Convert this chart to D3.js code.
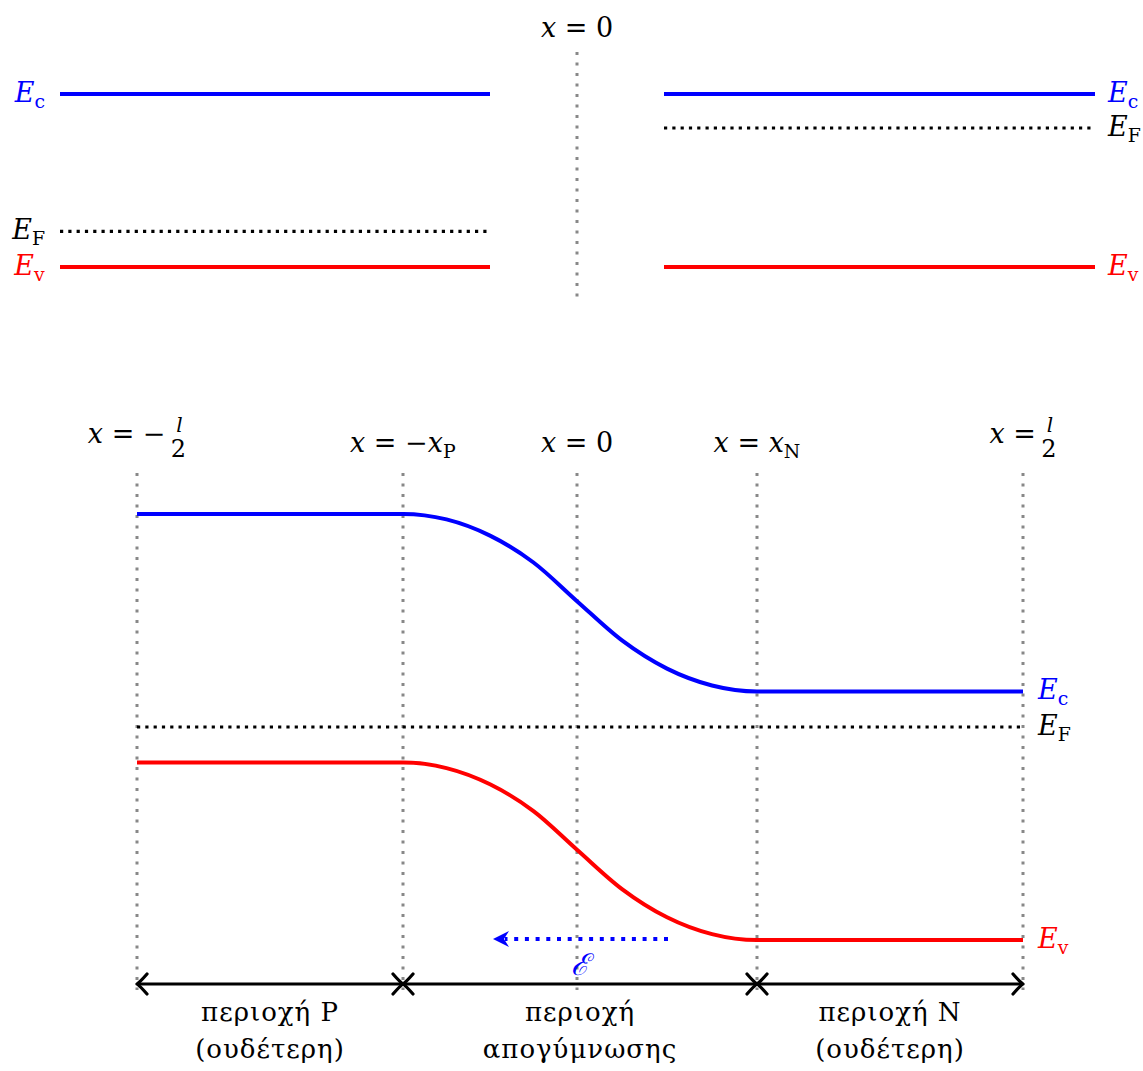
<!DOCTYPE html>
<html>
<head>
<meta charset="utf-8">
<script src="https://cdn.jsdelivr.net/npm/d3@7"></script>
<style>
  body { margin: 0; background: #fff; }
  text { font-family: "DejaVu Serif", "Liberation Serif", serif; }
</style>
</head>
<body>
<div id="chart"></div>
<script>
/* values: x in position units (x = 0 at the junction), energies in eV */

// top panel: the two pieces before contact (Ev = 0)
const topSpanStart = [-51.7, 8.7];
const topSpanEnd = [-8.7, 51.8];
const topEc = [1.12, 1.12];
const topEv = [0, 0];
const topEF = [0.23, 0.90];

// bottom panel: the junction (EF = 0)
const boundaryX = [-44, -17.4, 0, 18, 44.6];
const bandX = [-44, -17.4, -13.05, -8.7, -4.35, 0, 4.5, 9, 13.5, 18, 44.6];
const ecValues = [0.96, 0.96, 0.935, 0.862, 0.741, 0.567, 0.39, 0.263, 0.187, 0.16, 0.16];
const evValues = [-0.16, -0.16, -0.185, -0.258, -0.379, -0.553, -0.73, -0.857, -0.933, -0.96, -0.96];
const efValue = 0;
const fieldFrom = 9.1, fieldTo = -8.4, fieldLevel = -0.955;

// labels
const boundaryLabels = [
  [{t: "x", it: 1}, {t: " = −"}, {frac: ["l", "2"]}],
  [{t: "x", it: 1}, {t: " = −"}, {t: "x", it: 1}, {t: "P", sub: 1}],
  [{t: "x", it: 1}, {t: " = 0"}],
  [{t: "x", it: 1}, {t: " = "}, {t: "x", it: 1}, {t: "N", sub: 1}],
  [{t: "x", it: 1}, {t: " = "}, {frac: ["l", "2"]}]
];
const regionNames = [
  ["περιοχή P", "(ουδέτερη)"],
  ["περιοχή", "απογύμνωσης"],
  ["περιοχή N", "(ουδέτερη)"]
];
const BLUE = "#0000ff", RED = "#ff0000", GRAY = "#888888";
const MATH = 27;

let svg = d3.select("#chart")
    .append("svg")
    .attr("width", 1143)
    .attr("height", 1071);

let x = d3.scaleLinear()
    .domain([-44, 44.6])
    .range([137, 1023]);

let yTop = d3.scaleLinear()
    .domain([0, 1.12])
    .range([267, 94]);

let yBot = d3.scaleLinear()
    .domain([0, 1])
    .range([727, 505]);

// builds "E_c" style labels out of tspans, plus optional fraction
function addMath(parent, parts, size, color) {
    let g = parent.append("g");
    let text = g.append("text").attr("font-size", size).attr("fill", color || "#000");
    parts.forEach(function(p) {
        if (p.frac) return;
        let ts = text.append("tspan").text(p.t);
        if (p.it) ts.attr("font-style", "italic");
        if (p.sub) ts.attr("font-size", size * 0.7).attr("dy", 6);
    });
    let fr = parts.find(function(p) { return p.frac; });
    if (fr) {
        let fx = text.node().getComputedTextLength() + 13;
        g.append("text").attr("x", fx + 1).attr("y", -11).attr("text-anchor", "middle")
            .attr("font-size", 20).attr("font-style", "italic").text(fr.frac[0]);
        g.append("text").attr("x", fx).attr("y", 14).attr("text-anchor", "middle")
            .attr("font-size", 24).text(fr.frac[1]);
    }
    return g;
}

function place(g, px, baseline, anchor) {
    let b = g.node().getBBox();
    let dx = anchor === "middle" ? px - b.width / 2 : anchor === "end" ? px - b.width : px;
    g.attr("transform", `translate(${dx - b.x}, ${baseline})`);
}

function levelLabel(name) {
    return [{t: "E", it: 1}, {t: name, sub: 1}];
}

/* ---------- top panel ---------- */
let topPanel = svg.append("g");

topPanel.append("line")
    .attr("x1", x(0)).attr("x2", x(0))
    .attr("y1", 52).attr("y2", 302)
    .attr("stroke", GRAY).attr("stroke-width", 3).attr("stroke-dasharray", "3 7.5");

place(addMath(topPanel, boundaryLabels[2], MATH), x(0), 37, "middle");

topSpanStart.forEach(function(s, i) {
    let e = topSpanEnd[i];
    topPanel.append("line").attr("x1", x(s)).attr("x2", x(e))
        .attr("y1", yTop(topEc[i])).attr("y2", yTop(topEc[i]))
        .attr("stroke", BLUE).attr("stroke-width", 4);
    topPanel.append("line").attr("x1", x(s)).attr("x2", x(e))
        .attr("y1", yTop(topEv[i])).attr("y2", yTop(topEv[i]))
        .attr("stroke", RED).attr("stroke-width", 4);
    topPanel.append("line").attr("x1", x(s)).attr("x2", x(e))
        .attr("y1", yTop(topEF[i])).attr("y2", yTop(topEF[i]))
        .attr("stroke", "#000").attr("stroke-width", 3.2).attr("stroke-dasharray", "3.2 5.1");

    // labels on the outer side
    let lx = i === 0 ? x(s) - 15 : x(e) + 12;
    let anchor = i === 0 ? "end" : "start";
    place(addMath(topPanel, levelLabel("c"), MATH, BLUE), lx, yTop(topEc[i]) + 8, anchor);
    place(addMath(topPanel, levelLabel("v"), MATH, RED), lx, yTop(topEv[i]) + 8, anchor);
    place(addMath(topPanel, levelLabel("F"), MATH, "#000"), lx, yTop(topEF[i]) + 8, anchor);
});

/* ---------- bottom panel ---------- */
let bot = svg.append("g");

// boundary guides
bot.selectAll(".guide")
    .data(boundaryX)
    .enter()
    .append("line")
    .attr("x1", function(d) { return x(d); })
    .attr("x2", function(d) { return x(d); })
    .attr("y1", 473).attr("y2", 990)
    .attr("stroke", GRAY).attr("stroke-width", 3).attr("stroke-dasharray", "3 7.5");

boundaryX.forEach(function(d, i) {
    let hasFrac = boundaryLabels[i].some(function(p) { return p.frac; });
    place(addMath(bot, boundaryLabels[i], MATH), x(d), hasFrac ? 443 : 452, "middle");
});

// fermi level
bot.append("line")
    .attr("x1", x(boundaryX[0])).attr("x2", x(boundaryX[4]))
    .attr("y1", yBot(efValue)).attr("y2", yBot(efValue))
    .attr("stroke", "#000").attr("stroke-width", 3.2).attr("stroke-dasharray", "3.2 5.1");

// bands
let band = d3.line()
    .x(function(d) { return x(d[0]); })
    .y(function(d) { return yBot(d[1]); })
    .curve(d3.curveMonotoneX);

bot.append("path")
    .attr("d", band(d3.zip(bandX, ecValues)))
    .attr("fill", "none").attr("stroke", BLUE).attr("stroke-width", 4);
bot.append("path")
    .attr("d", band(d3.zip(bandX, evValues)))
    .attr("fill", "none").attr("stroke", RED).attr("stroke-width", 4);

let rx = x(boundaryX[4]) + 14;
place(addMath(bot, levelLabel("c"), MATH, BLUE), rx, yBot(ecValues[ecValues.length - 1]) + 8, "start");
place(addMath(bot, levelLabel("F"), MATH, "#000"), rx, yBot(efValue) + 8, "start");
place(addMath(bot, levelLabel("v"), MATH, RED), rx, yBot(evValues[evValues.length - 1]) + 8, "start");

// electric field arrow
let fy = yBot(fieldLevel);
let tip = x(fieldTo);
bot.append("line")
    .attr("x1", x(fieldFrom)).attr("x2", tip + 12)
    .attr("y1", fy).attr("y2", fy)
    .attr("stroke", BLUE).attr("stroke-width", 4).attr("stroke-dasharray", "4 6.7");
bot.append("path")
    .attr("d", `M${tip},${fy} L${tip + 16},${fy - 8} L${tip + 11},${fy} L${tip + 16},${fy + 8} Z`)
    .attr("fill", BLUE);
bot.append("text")
    .attr("x", x(0) + 3).attr("y", 975)
    .attr("text-anchor", "middle")
    .attr("font-size", 30)
    .attr("font-style", "italic")
    .attr("fill", BLUE)
    .text("ℰ");

// region arrows
let ay = 984;
function chevron(tx, dir) {
    let b = tx - dir * 10;
    return `M${b},${ay - 10} Q${tx - dir * 3},${ay - 2} ${tx},${ay} Q${tx - dir * 3},${ay + 2} ${b},${ay + 10}`;
}
let regionEdges = [[0, 1], [1, 3], [3, 4]];
regionEdges.forEach(function(ed, i) {
    let a = x(boundaryX[ed[0]]);
    let b = x(boundaryX[ed[1]]);
    bot.append("line").attr("x1", a).attr("x2", b).attr("y1", ay).attr("y2", ay)
        .attr("stroke", "#000").attr("stroke-width", 3);
    bot.append("path").attr("d", chevron(a, -1) + " " + chevron(b, 1))
        .attr("fill", "none").attr("stroke", "#000").attr("stroke-width", 3.2)
        .attr("stroke-linecap", "round").attr("stroke-linejoin", "round");

    let t = bot.append("text")
        .attr("text-anchor", "middle")
        .attr("font-size", 26)
        .attr("letter-spacing", 1);
    regionNames[i].forEach(function(line, j) {
        t.append("tspan").attr("x", (a + b) / 2).attr("y", j === 0 ? 1021 : 1058).text(line);
    });
});
</script>
</body>
</html>
